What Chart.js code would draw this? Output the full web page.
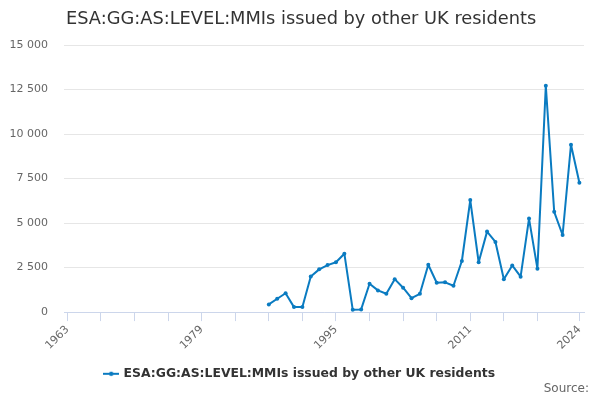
<!DOCTYPE html>
<html>
<head>
<meta charset="utf-8">
<script src="https://cdn.jsdelivr.net/npm/chart.js@4/dist/chart.umd.min.js"></script>
<style>
  html, body { margin: 0; padding: 0; background: #fff; }
  #wrap { position: relative; width: 600px; height: 400px; font-family: "DejaVu Sans", sans-serif; }
  #title { position: absolute; left: 66px; top: 7px; font-size: 17.8px; color: #333; white-space: nowrap; }
  #source { position: absolute; right: 11px; top: 381px; font-size: 12px; color: #666; }
</style>
</head>
<body>
<div id="wrap">
  <canvas id="chart" width="600" height="400"></canvas>
  <div id="title">ESA:GG:AS:LEVEL:MMIs issued by other UK residents</div>
  <div id="source">Source:</div>
</div>
<script>
const seriesName = "ESA:GG:AS:LEVEL:MMIs issued by other UK residents";
const years = [1987, 1988, 1989, 1990, 1991, 1992, 1993, 1994, 1995, 1996,
               1997, 1998, 1999, 2000, 2001, 2002, 2003, 2004, 2005, 2006,
               2007, 2008, 2009, 2010, 2011, 2012, 2013, 2014, 2015, 2016,
               2017, 2018, 2019, 2020, 2021, 2022, 2023, 2024];
const values = [430, 750, 1060, 280, 290, 2000, 2400, 2640, 2800, 3280,
                130, 150, 1590, 1220, 1030, 1850, 1370, 780, 1030, 2660,
                1650, 1670, 1480, 2870, 6290, 2800, 4520, 3940, 1840, 2620,
                1990, 5250, 2440, 12710, 5630, 4330, 9400, 7260];
const xTickValues = [1963, 1967, 1971, 1975, 1979, 1983, 1987, 1991, 1995, 1999,
                     2003, 2007, 2011, 2015, 2019, 2024];
const xLabelYears = [1963, 1979, 1995, 2011, 2024];
const yTicks = [0, 2500, 5000, 7500, 10000, 12500, 15000];

const lineColor = "#0a7bc1";

// little legend symbol: a line with a dot in the middle
function legendSymbol() {
    const c = document.createElement("canvas");
    c.width = 16; c.height = 8;
    const g = c.getContext("2d");
    g.strokeStyle = lineColor;
    g.lineWidth = 2;
    g.beginPath(); g.moveTo(0, 4); g.lineTo(16, 4); g.stroke();
    g.fillStyle = lineColor;
    g.beginPath(); g.arc(8, 4, 2.2, 0, Math.PI * 2); g.fill();
    return c;
}
const symbol = legendSymbol();

function formatNumber(v) {
    return String(v).replace(/\B(?=(\d{3})+(?!\d))/g, " ");
}

const ctx = document.getElementById("chart").getContext("2d");
new Chart(ctx, {
    type: "line",
    data: {
        datasets: [{
            label: seriesName,
            data: years.map((y, i) => ({ x: y, y: values[i] })),
            borderColor: lineColor,
            backgroundColor: lineColor,
            borderWidth: 2,
            borderJoinStyle: "round",
            borderCapStyle: "round",
            pointRadius: 2,
            pointBorderWidth: 0,
            pointHoverRadius: 3,
            tension: 0
        }]
    },
    options: {
        responsive: false,
        animation: false,
        layout: { padding: { top: 45, right: 0, bottom: 10, left: 0 } },
        plugins: {
            title: { display: false },
            tooltip: { enabled: false },
            legend: {
                position: "bottom",
                labels: {
                    usePointStyle: true,
                    color: "#333",
                    font: { family: "DejaVu Sans", size: 12.4, weight: "bold" },
                    padding: 8,
                    generateLabels: function (chart) {
                        return chart.data.datasets.map((ds, i) => ({
                            text: ds.label,
                            pointStyle: symbol,
                            fontColor: "#333",
                            strokeStyle: lineColor,
                            fillStyle: lineColor,
                            hidden: false,
                            datasetIndex: i
                        }));
                    }
                }
            }
        },
        scales: {
            x: {
                type: "linear",
                min: 1962.6,
                max: 2024.55,
                afterBuildTicks: function (scale) {
                    scale.ticks = xTickValues.map(v => ({ value: v }));
                },
                afterFit: function (scale) { scale.height = 47.5; },
                grid: {
                    drawOnChartArea: false,
                    drawTicks: true,
                    tickLength: 9,
                    color: "#ccd6eb"
                },
                border: { display: true, color: "#ccd6eb" },
                ticks: {
                    autoSkip: false,
                    maxRotation: 45,
                    minRotation: 45,
                    padding: 2,
                    color: "#666",
                    font: { family: "DejaVu Sans", size: 11 },
                    callback: function (v) {
                        return xLabelYears.includes(v) ? String(v) : "";
                    }
                }
            },
            y: {
                min: 0,
                max: 15000,
                afterBuildTicks: function (scale) {
                    scale.ticks = yTicks.map(v => ({ value: v }));
                },
                afterFit: function (scale) { scale.width = 64; },
                grid: { color: "#e6e6e6", drawTicks: false },
                border: { display: false },
                ticks: {
                    padding: 16,
                    color: "#666",
                    font: { family: "DejaVu Sans", size: 11 },
                    callback: function (v) { return formatNumber(v); }
                }
            },
            // empty right-hand axis, only to keep a margin on the right
            yRight: {
                position: "right",
                min: 0,
                max: 15000,
                afterFit: function (scale) { scale.width = 16; },
                grid: { display: false },
                border: { display: false },
                ticks: { display: false }
            }
        }
    }
});
</script>
</body>
</html>
